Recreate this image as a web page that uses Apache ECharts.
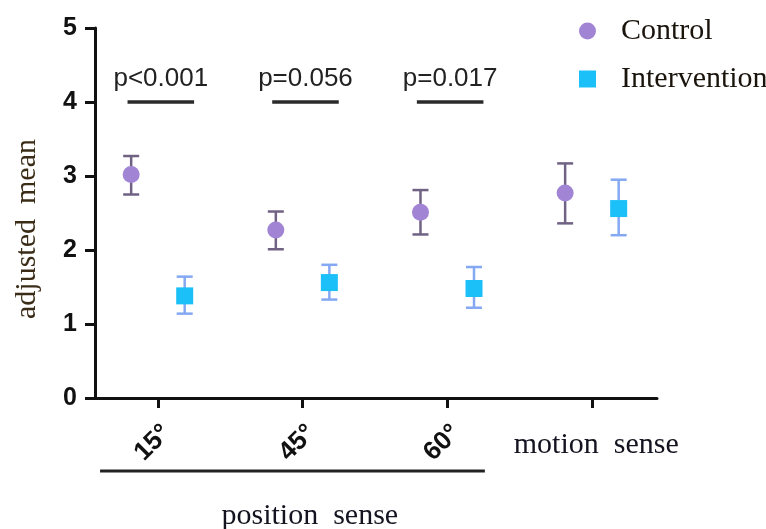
<!DOCTYPE html>
<html lang="en">
<head>
<meta charset="UTF-8">
<title>Adjusted mean</title>
<script src="https://cdn.jsdelivr.net/npm/echarts@6/dist/echarts.min.js"></script>
<style>
  html, body { margin: 0; background: #fff; }
  #chart { width: 766px; height: 529px; }
</style>
</head>
<body>
<div id="chart"></div>
<script>
// data
const categories = ['15°', '45°', '60°', 'motion  sense'];
const positions = [1, 2, 3, 4];
const controlMean = [3.02, 2.27, 2.51, 2.77];
const controlLow = [2.75, 2.01, 2.21, 2.36];
const controlHigh = [3.27, 2.52, 2.81, 3.17];
const interventionMean = [1.38, 1.56, 1.48, 2.56];
const interventionLow = [1.14, 1.33, 1.22, 2.20];
const interventionHigh = [1.64, 1.80, 1.77, 2.95];
const pLabels = ['p<0.001', 'p=0.056', 'p=0.017'];
const pLevel = 4;

const dodge = 0.185;
const labelShift = 0.06;
const ctrlColor = '#a284d4';
const ctrlBar = '#6f6283';
const intColor = '#1cc0f8';
const intBar = '#84a8f2';

function errorBar(color) {
  return function (params, api) {
    const x = api.value(0);
    const lo = api.coord([x, api.value(1)]);
    const hi = api.coord([x, api.value(2)]);
    const w = 8;
    const style = { stroke: color, lineWidth: 2.5 };
    return {
      type: 'group',
      children: [
        { type: 'line', shape: { x1: lo[0], y1: lo[1], x2: hi[0], y2: hi[1] }, style },
        { type: 'line', shape: { x1: lo[0] - w, y1: lo[1], x2: lo[0] + w, y2: lo[1] }, style },
        { type: 'line', shape: { x1: hi[0] - w, y1: hi[1], x2: hi[0] + w, y2: hi[1] }, style }
      ]
    };
  };
}

const chart = echarts.init(document.getElementById('chart'));

chart.setOption({
  animation: false,
  grid: { left: 95, right: 109, top: 28, bottom: 131 },
  legend: {
    orient: 'vertical',
    left: 574,
    top: 10,
    itemWidth: 17,
    itemHeight: 17,
    itemGap: 16,
    textStyle: {
      fontFamily: 'Liberation Serif', fontSize: 30, color: '#1a140c',
      lineHeight: 32, padding: [0, 0, 0, 20]
    },
    data: [
      { name: 'Control', icon: 'circle' },
      { name: 'Intervention', icon: 'rect' }
    ]
  },
  xAxis: [
    {
      type: 'value',
      min: 0.565,
      max: 4.45,
      splitLine: { show: false },
      axisLine: { show: true, lineStyle: { color: '#111', width: 3 } },
      axisTick: { show: true, length: 10, customValues: positions, lineStyle: { color: '#111', width: 3 } },
      axisLabel: {
        customValues: positions.slice(0, 3).map(p => p + labelShift),
        formatter: v => categories[Math.round(v) - 1],
        rotate: 45,
        margin: 31,
        fontFamily: 'Liberation Sans', fontWeight: 'bold', fontSize: 26, color: '#111'
      }
    },
    {
      type: 'value',
      position: 'bottom',
      min: 0.565,
      max: 4.45,
      splitLine: { show: false },
      axisLine: { show: false },
      axisTick: { show: false },
      axisLabel: {
        customValues: [positions[3] + labelShift / 2],
        formatter: v => categories[Math.round(v) - 1],
        margin: 32,
        fontFamily: 'Liberation Serif', fontSize: 30, color: '#141420'
      }
    }
  ],
  yAxis: {
    type: 'value',
    min: 0,
    max: 5,
    interval: 1,
    splitLine: { show: false },
    axisLine: { show: true, lineStyle: { color: '#111', width: 3 } },
    axisTick: { show: true, length: 10, lineStyle: { color: '#111', width: 3 } },
    axisLabel: {
      margin: 18,
      fontFamily: 'Liberation Sans', fontWeight: 'bold', fontSize: 25, color: '#111'
    }
  },
  series: [
    {
      type: 'custom',
      name: 'ctrlErr',
      renderItem: errorBar(ctrlBar),
      data: positions.map((p, i) => [p - dodge, controlLow[i], controlHigh[i]]),
      z: 2
    },
    {
      type: 'custom',
      name: 'intErr',
      renderItem: errorBar(intBar),
      data: positions.map((p, i) => [p + dodge, interventionLow[i], interventionHigh[i]]),
      z: 2
    },
    {
      type: 'scatter',
      name: 'Control',
      symbol: 'circle',
      symbolSize: 17,
      itemStyle: { color: ctrlColor, opacity: 1 },
      data: positions.map((p, i) => [p - dodge, controlMean[i]]),
      z: 3
    },
    {
      type: 'scatter',
      name: 'Intervention',
      symbol: 'rect',
      symbolSize: 17,
      itemStyle: { color: intColor, opacity: 1 },
      data: positions.map((p, i) => [p + dodge, interventionMean[i]]),
      z: 3
    },
    {
      type: 'custom',
      name: 'pvalues',
      renderItem: function (params, api) {
        const x = api.value(0);
        const a = api.coord([x - 0.21, api.value(1)]);
        const b = api.coord([x + 0.25, api.value(1)]);
        const c = api.coord([x + 0.02, api.value(1)]);
        return {
          type: 'group',
          children: [
            { type: 'line', shape: { x1: a[0], y1: a[1], x2: b[0], y2: b[1] },
              style: { stroke: '#2a2a2a', lineWidth: 3.5 } },
            { type: 'text', x: c[0], y: c[1] - 10,
              style: { text: pLabels[params.dataIndex], align: 'center', verticalAlign: 'bottom',
                fontFamily: 'Liberation Sans', fontSize: 26, fill: '#222' } }
          ]
        };
      },
      data: positions.slice(0, 3).map(p => [p, pLevel]),
      z: 4
    }
  ]
});

// group bracket below the position-sense categories
const lx1 = chart.convertToPixel({ xAxisIndex: 0 }, 0.6);
const lx2 = chart.convertToPixel({ xAxisIndex: 0 }, 3.26);
const mid = chart.convertToPixel({ xAxisIndex: 0 }, 2.05);
chart.setOption({
  graphic: [
    { type: 'line', shape: { x1: lx1, y1: 471, x2: lx2, y2: 471 },
      style: { stroke: '#222', lineWidth: 3 } },
    { type: 'text', x: mid, y: 516,
      style: { text: 'position  sense', align: 'center', verticalAlign: 'middle',
        fontFamily: 'Liberation Serif', fontSize: 30, fill: '#141420' } },
    { type: 'text', x: 27, y: 229, rotation: Math.PI / 2,
      style: { text: 'adjusted  mean', align: 'center', verticalAlign: 'middle',
        fontFamily: 'Liberation Serif', fontSize: 30, fill: '#3a2c16' } }
  ]
});
</script>
</body>
</html>
